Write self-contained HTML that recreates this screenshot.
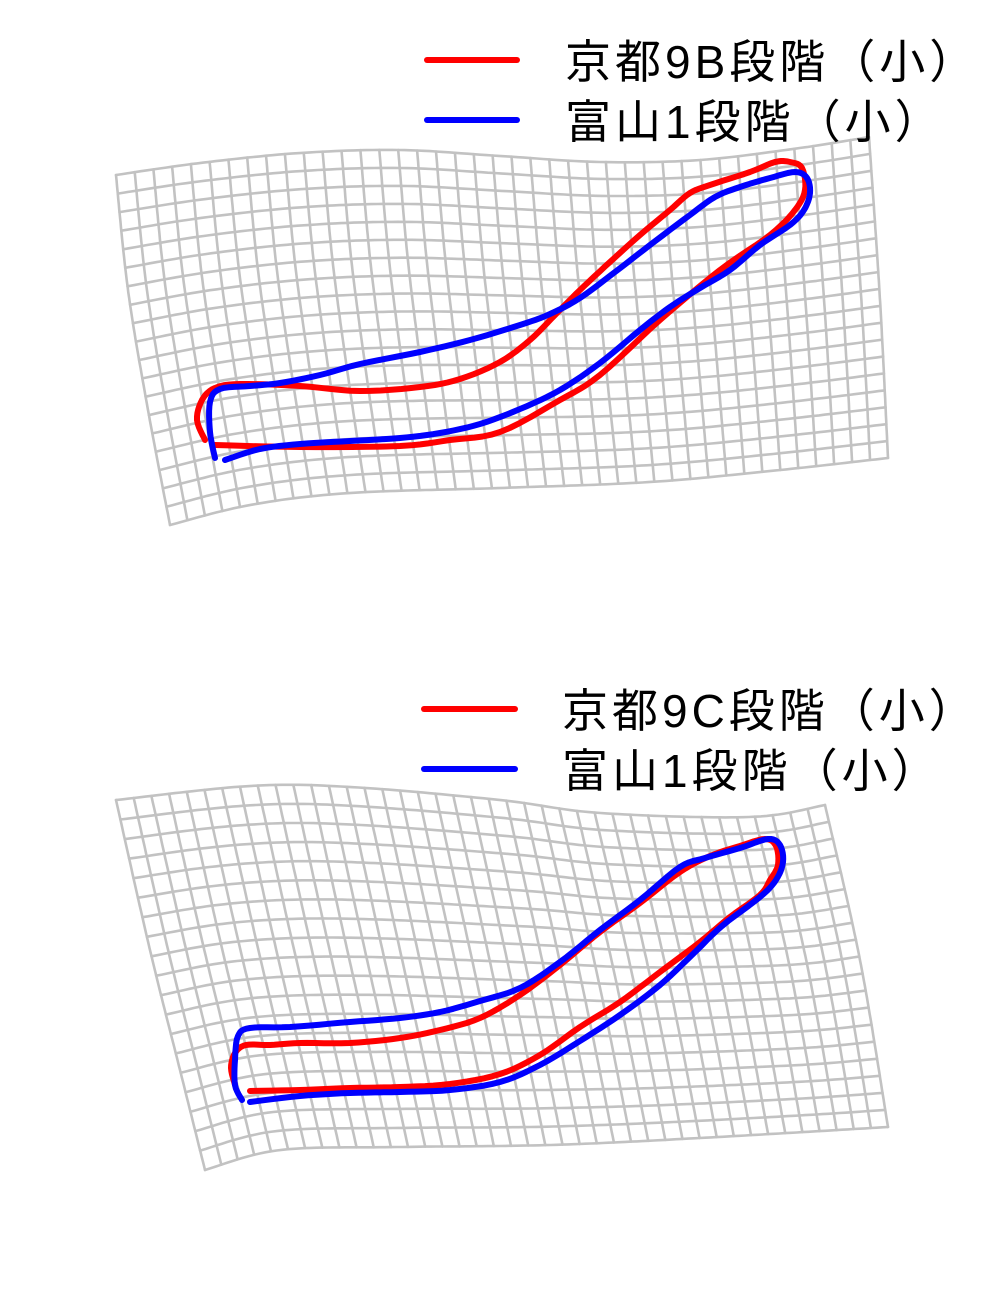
<!DOCTYPE html>
<html><head><meta charset="utf-8"><style>
html,body{margin:0;padding:0;background:#fff;}
svg{display:block;}
text{font-family:"Liberation Sans","Noto Sans CJK JP",sans-serif;font-size:46px;fill:#000;letter-spacing:4px;}
</style></head><body>
<svg id="chart" width="1000" height="1300" viewBox="0 0 1000 1300" xmlns="http://www.w3.org/2000/svg">
<g id="p1"></g>
<g id="p2"></g>
<g>
<line x1="427" y1="60" x2="517" y2="60" stroke="#ff0000" stroke-width="6" stroke-linecap="round"/>
<text x="565" y="78">京都9B段階（小）</text>
<line x1="427" y1="120" x2="517" y2="120" stroke="#0000ff" stroke-width="6" stroke-linecap="round"/>
<text x="565" y="138">富山1段階（小）</text>
</g>
<g>
<line x1="424" y1="709" x2="515" y2="709" stroke="#ff0000" stroke-width="6" stroke-linecap="round"/>
<text x="562" y="727">京都9C段階（小）</text>
<line x1="424" y1="769" x2="515" y2="769" stroke="#0000ff" stroke-width="6" stroke-linecap="round"/>
<text x="562" y="787">富山1段階（小）</text>
</g>
</svg>
<script>
const NS="http://www.w3.org/2000/svg";
// grid edge outlines (top panel)
const top1=[[116,175],[200,163],[300,153],[400,150],[500,156],[600,162],[700,160],[800,148],[869,137]];
const bot1=[[170,525],[250,505],[350,493],[500,488],[650,482],[780,470],[888,458]];
const left1=[[116,175],[128,290],[148,410],[170,525]];
const right1=[[869,137],[880,300],[888,458]];
// bottom panel
const top2=[[116,800],[250,786],[350,787],[500,800],[600,813],[750,817],[825,805]];
const bot2=[[205,1170],[280,1150],[400,1147],[550,1145],[700,1138],[888,1127]];
const left2=[[116,800],[150,950],[180,1070],[205,1170]];
const right2=[[825,805],[860,960],[888,1127]];
// outlines
const red1=[[205,440],[197,420],[202,400],[215,388],[240,384],[300,386],[360,391],[420,387],[460,379],[500,362],[530,340],[555,315],[580,290],[610,262],[640,235],[670,210],[690,193],[710,185],[750,172],[775,162],[790,162],[802,168],[805,190],[795,210],[770,235],[720,270],[660,320],[600,375],[560,400],[500,432],[450,440],[400,446],[300,447],[215,445]];
const blue1=[[215,458],[210,432],[210,402],[220,389],[250,386],[280,383],[320,375],[360,364],[420,352],[470,340],[520,325],[550,314],[580,298],[615,272],[650,245],[690,215],[715,197],[740,187],[770,178],[795,172],[807,178],[810,193],[804,210],[790,225],[760,245],[730,270],[700,288],[670,307],[640,330],[600,363],[560,390],[520,409],[480,424],[440,433],[400,438],[350,441],[300,444],[260,449],[225,460]];
const red2=[[235,1085],[231,1068],[235,1053],[246,1045],[270,1045],[300,1043],[350,1043],[400,1038],[440,1030],[480,1018],[520,995],[560,965],[600,932],[640,903],[680,872],[710,856],[740,846],[765,839],[776,846],[778,865],[770,880],[760,895],[730,917],[700,942],[660,972],[620,1002],[580,1027],[540,1055],[500,1074],[450,1084],[400,1087],[350,1088],[300,1090],[250,1091]];
const blue2=[[242,1100],[235,1085],[235,1060],[238,1036],[250,1028],[290,1027],[350,1022],[400,1018],[440,1012],[480,1001],[520,988],[560,962],[600,930],[640,900],[680,867],[705,858],[740,848],[768,839],[780,845],[783,862],[776,880],[760,897],[722,926],[692,955],[660,985],[620,1015],[580,1041],[540,1065],[500,1082],[450,1090],[400,1092],[350,1093],[300,1096],[250,1102]];
const NC=40, NR=19;

function smooth(pts,n){
  const out=[];
  for(let i=0;i<pts.length-1;i++){
    const p0=pts[Math.max(0,i-1)],p1=pts[i],p2=pts[i+1],p3=pts[Math.min(pts.length-1,i+2)];
    for(let s=0;s<n;s++){const t=s/n,t2=t*t,t3=t2*t;
      out.push([0,1].map(k=>0.5*(2*p1[k]+(-p0[k]+p2[k])*t+(2*p0[k]-5*p1[k]+4*p2[k]-p3[k])*t2+(-p0[k]+3*p1[k]-3*p2[k]+p3[k])*t3)));}
  }
  out.push(pts[pts.length-1]);return out;
}
function along(pts,t){
  let L=[0];for(let i=1;i<pts.length;i++)L.push(L[i-1]+Math.hypot(pts[i][0]-pts[i-1][0],pts[i][1]-pts[i-1][1]));
  const d=t*L[L.length-1];
  for(let i=1;i<pts.length;i++){if(d<=L[i]||i==pts.length-1){const f=(d-L[i-1])/((L[i]-L[i-1])||1);return [pts[i-1][0]+f*(pts[i][0]-pts[i-1][0]),pts[i-1][1]+f*(pts[i][1]-pts[i-1][1])];}}
}
function coons(T,B,Lf,R,u,v){
  const t=along(T,u),b=along(B,u),l=along(Lf,v),r=along(R,v);
  const c00=T[0],c10=T[T.length-1],c01=B[0],c11=B[B.length-1];
  const out=[0,0];
  for(let k=0;k<2;k++)out[k]=(1-v)*t[k]+v*b[k]+(1-u)*l[k]+u*r[k]-((1-u)*(1-v)*c00[k]+u*(1-v)*c10[k]+(1-u)*v*c01[k]+u*v*c11[k]);
  return out;
}
function pl(g,pts,color,w,name){
  const p=document.createElementNS(NS,'polyline');
  p.setAttribute('points',pts.map(q=>q[0].toFixed(1)+','+q[1].toFixed(1)).join(' '));
  p.setAttribute('fill','none');p.setAttribute('stroke',color);p.setAttribute('stroke-width',w);
  p.setAttribute('stroke-linejoin','round');p.setAttribute('stroke-linecap','round');
  
  
  g.appendChild(p);
}
function grid(g,T,B,Lf,R){
  T=smooth(T,12);B=smooth(B,12);Lf=smooth(Lf,12);R=smooth(R,12);
  const S=60;
  for(let i=0;i<=NC;i++){const pts=[];for(let j=0;j<=S;j++)pts.push(coons(T,B,Lf,R,i/NC,j/S));pl(g,pts,'#c2c2c2',2.6,'grid-line-vertical');}
  for(let j=0;j<=NR;j++){const pts=[];for(let i=0;i<=S*2;i++)pts.push(coons(T,B,Lf,R,i/(S*2),j/NR));pl(g,pts,'#c2c2c2',2.6,'grid-line-horizontal');}
}
const g1=document.getElementById('p1'),g2=document.getElementById('p2');
grid(g1,top1,bot1,left1,right1);
grid(g2,top2,bot2,left2,right2);
pl(g1,smooth(red1,6),'#ff0000',6,'outline-kyoto-9b');
pl(g1,smooth(blue1,6),'#0000ff',6,'outline-toyama-1-top');
pl(g2,smooth(red2,6),'#ff0000',6,'outline-kyoto-9c');
pl(g2,smooth(blue2,6),'#0000ff',6,'outline-toyama-1-bottom');
</script>
</body></html>
